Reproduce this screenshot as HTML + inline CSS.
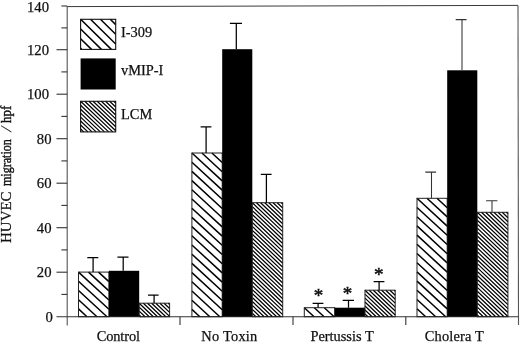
<!DOCTYPE html>
<html><head><meta charset="utf-8"><title>HUVEC migration</title>
<style>
html,body{margin:0;padding:0;background:#fff;}
svg{display:block;}
text{font-family:"Liberation Serif","DejaVu Serif",serif;font-size:14.7px;fill:#111;stroke:#111;stroke-width:0.25px;}
</style></head><body>
<svg width="520" height="343" viewBox="0 0 520 343">
<rect width="520" height="343" fill="#fff"/>

<g stroke="#555" stroke-width="1.1" fill="none">
<path d="M67.2,6.2 L67.2,325.5"/>
<path d="M67.2,6.6000000000000005 L518,5.4" stroke="#3a3a3a" stroke-width="1"/>
<path d="M518,5.6000000000000005 L518.5,325"/>
</g>
<g stroke="#333" stroke-width="1.1" fill="none">
<path d="M56.5,316.7 L518.5,316.7"/>
<path d="M180,316.7 L180,325"/>
<path d="M293,316.7 L293,325"/>
<path d="M405.8,316.7 L405.8,325"/>
<path d="M61.4,294.4 L67.2,294.4"/>
<path d="M56.5,272.2 L67.2,272.2"/>
<path d="M61.4,249.9 L67.2,249.9"/>
<path d="M56.5,227.7 L67.2,227.7"/>
<path d="M61.4,205.4 L67.2,205.4"/>
<path d="M56.5,183.2 L67.2,183.2"/>
<path d="M61.4,160.9 L67.2,160.9"/>
<path d="M56.5,138.7 L67.2,138.7"/>
<path d="M61.4,116.4 L67.2,116.4"/>
<path d="M56.5,94.2 L67.2,94.2"/>
<path d="M61.4,71.9 L67.2,71.9"/>
<path d="M56.5,49.7 L67.2,49.7"/>
<path d="M61.4,27.9 L67.2,27.9"/>
<path d="M61.4,6.0 L67.2,6.0"/>
</g>
<path d="M78.50,308.90L86.98,316.70M78.50,299.70L96.98,316.70M78.50,290.50L106.98,316.70M78.50,281.30L108.90,309.27M78.50,272.10L108.90,300.07M88.50,272.10L108.90,290.87M98.50,272.10L108.90,281.67M108.50,272.10L108.90,272.47" stroke="#000" stroke-width="1.5" fill="none"/>
<rect x="78.5" y="272.1" width="30.4" height="44.6" fill="none" stroke="#222" stroke-width="1"/>
<rect x="108.9" y="270.8" width="30.3" height="45.9" fill="#000"/>
<path d="M139.20,315.05L140.93,316.70M139.20,311.10L145.08,316.70M139.20,307.15L149.23,316.70M139.20,303.20L153.38,316.70M143.35,303.20L157.53,316.70M147.50,303.20L161.68,316.70M151.65,303.20L165.83,316.70M155.80,303.20L169.60,316.33M159.95,303.20L169.60,312.38M164.10,303.20L169.60,308.43M168.25,303.20L169.60,304.48" stroke="#000" stroke-width="1.25" fill="none"/>
<rect x="139.2" y="303.2" width="30.4" height="13.5" fill="none" stroke="#222" stroke-width="1"/>
<path d="M191.90,309.40L199.83,316.70M191.90,300.20L209.83,316.70M191.90,291.00L219.83,316.70M191.90,281.80L222.20,309.68M191.90,272.60L222.20,300.48M191.90,263.40L222.20,291.28M191.90,254.20L222.20,282.08M191.90,245.00L222.20,272.88M191.90,235.80L222.20,263.68M191.90,226.60L222.20,254.48M191.90,217.40L222.20,245.28M191.90,208.20L222.20,236.08M191.90,199.00L222.20,226.88M191.90,189.80L222.20,217.68M191.90,180.60L222.20,208.48M191.90,171.40L222.20,199.28M191.90,162.20L222.20,190.08M191.90,153.00L222.20,180.88M201.90,153.00L222.20,171.68M211.90,153.00L222.20,162.48M221.90,153.00L222.20,153.28" stroke="#000" stroke-width="1.5" fill="none"/>
<rect x="191.9" y="153.0" width="30.3" height="163.7" fill="none" stroke="#222" stroke-width="1"/>
<rect x="222.2" y="49.2" width="30.1" height="267.5" fill="#000"/>
<path d="M252.30,313.30L255.87,316.70M252.30,309.35L260.02,316.70M252.30,305.40L264.17,316.70M252.30,301.45L268.32,316.70M252.30,297.50L272.47,316.70M252.30,293.55L276.62,316.70M252.30,289.60L280.77,316.70M252.30,285.65L282.70,314.58M252.30,281.70L282.70,310.63M252.30,277.75L282.70,306.68M252.30,273.80L282.70,302.73M252.30,269.85L282.70,298.78M252.30,265.90L282.70,294.83M252.30,261.95L282.70,290.88M252.30,258.00L282.70,286.93M252.30,254.05L282.70,282.98M252.30,250.10L282.70,279.03M252.30,246.15L282.70,275.08M252.30,242.20L282.70,271.13M252.30,238.25L282.70,267.18M252.30,234.30L282.70,263.23M252.30,230.35L282.70,259.28M252.30,226.40L282.70,255.33M252.30,222.45L282.70,251.38M252.30,218.50L282.70,247.43M252.30,214.55L282.70,243.48M252.30,210.60L282.70,239.53M252.30,206.65L282.70,235.58M252.30,202.70L282.70,231.63M256.45,202.70L282.70,227.68M260.60,202.70L282.70,223.73M264.75,202.70L282.70,219.78M268.90,202.70L282.70,215.83M273.05,202.70L282.70,211.88M277.20,202.70L282.70,207.93M281.35,202.70L282.70,203.98" stroke="#000" stroke-width="1.25" fill="none"/>
<rect x="252.3" y="202.7" width="30.4" height="114.0" fill="none" stroke="#222" stroke-width="1"/>
<path d="M304.30,307.70L314.08,316.70M314.30,307.70L324.08,316.70M324.30,307.70L334.08,316.70M334.30,307.70L334.70,308.07" stroke="#000" stroke-width="1.5" fill="none"/>
<rect x="304.3" y="307.7" width="30.4" height="9.0" fill="none" stroke="#222" stroke-width="1"/>
<rect x="334.7" y="307.7" width="30.3" height="9.0" fill="#000"/>
<path d="M365.00,313.90L367.94,316.70M365.00,309.95L372.09,316.70M365.00,306.00L376.24,316.70M365.00,302.05L380.39,316.70M365.00,298.10L384.54,316.70M365.00,294.15L388.69,316.70M365.00,290.20L392.84,316.70M369.15,290.20L395.20,314.99M373.30,290.20L395.20,311.04M377.45,290.20L395.20,307.09M381.60,290.20L395.20,303.14M385.75,290.20L395.20,299.19M389.90,290.20L395.20,295.24M394.05,290.20L395.20,291.29" stroke="#000" stroke-width="1.25" fill="none"/>
<rect x="365.0" y="290.2" width="30.2" height="26.5" fill="none" stroke="#222" stroke-width="1"/>
<path d="M417.00,308.70L425.70,316.70M417.00,299.50L435.70,316.70M417.00,290.30L445.70,316.70M417.00,281.10L447.20,308.88M417.00,271.90L447.20,299.68M417.00,262.70L447.20,290.48M417.00,253.50L447.20,281.28M417.00,244.30L447.20,272.08M417.00,235.10L447.20,262.88M417.00,225.90L447.20,253.68M417.00,216.70L447.20,244.48M417.00,207.50L447.20,235.28M417.00,198.30L447.20,226.08M427.00,198.30L447.20,216.88M437.00,198.30L447.20,207.68M447.00,198.30L447.20,198.48" stroke="#000" stroke-width="1.5" fill="none"/>
<rect x="417.0" y="198.3" width="30.2" height="118.4" fill="none" stroke="#222" stroke-width="1"/>
<rect x="447.2" y="70.3" width="30.1" height="246.4" fill="#000"/>
<path d="M477.30,315.00L479.09,316.70M477.30,311.05L483.24,316.70M477.30,307.10L487.39,316.70M477.30,303.15L491.54,316.70M477.30,299.20L495.69,316.70M477.30,295.25L499.84,316.70M477.30,291.30L503.99,316.70M477.30,287.35L507.90,316.48M477.30,283.40L507.90,312.53M477.30,279.45L507.90,308.58M477.30,275.50L507.90,304.63M477.30,271.55L507.90,300.68M477.30,267.60L507.90,296.73M477.30,263.65L507.90,292.78M477.30,259.70L507.90,288.83M477.30,255.75L507.90,284.88M477.30,251.80L507.90,280.93M477.30,247.85L507.90,276.98M477.30,243.90L507.90,273.03M477.30,239.95L507.90,269.08M477.30,236.00L507.90,265.13M477.30,232.05L507.90,261.18M477.30,228.10L507.90,257.23M477.30,224.15L507.90,253.28M477.30,220.20L507.90,249.33M477.30,216.25L507.90,245.38M477.30,212.30L507.90,241.43M481.45,212.30L507.90,237.48M485.60,212.30L507.90,233.53M489.75,212.30L507.90,229.58M493.90,212.30L507.90,225.63M498.05,212.30L507.90,221.68M502.20,212.30L507.90,217.73M506.35,212.30L507.90,213.78" stroke="#000" stroke-width="1.25" fill="none"/>
<rect x="477.3" y="212.3" width="30.6" height="104.4" fill="none" stroke="#222" stroke-width="1"/>
<g stroke="#000" stroke-width="1.25" fill="none">
<path d="M93.1,272.1 L93.1,257.5 M87.3,257.5 L98.3,257.5"/>
<path d="M123.2,270.8 L123.2,257.0 M117.4,257.0 L128.5,257.0"/>
<path d="M154.1,303.2 L154.1,295.2 M148.0,295.2 L158.6,295.2"/>
<path d="M206.1,153.0 L206.1,126.9 M200.6,126.9 L211.4,126.9"/>
<path d="M236.3,49.2 L236.3,23.3 M229.9,23.3 L242.0,23.3"/>
<path d="M266.4,202.7 L266.4,174.3 M260.8,174.3 L271.6,174.3"/>
<path d="M318.1,307.7 L318.1,303.4 M312.6,303.4 L323.4,303.4"/>
<path d="M348.5,307.7 L348.5,300.4 M342.7,300.4 L354.0,300.4"/>
<path d="M379.1,290.2 L379.1,281.6 M373.6,281.6 L384.4,281.6"/>
<path d="M431.5,198.3 L431.5,172.1 M425.3,172.1 L436.1,172.1" stroke="#333" stroke-width="1.05"/>
<path d="M462.0,70.3 L462.0,19.6 M455.7,19.6 L466.5,19.6" stroke="#333" stroke-width="1.05"/>
<path d="M492.0,212.3 L492.0,200.7 M486.1,200.7 L497.4,200.7" stroke="#333" stroke-width="1.05"/>
</g>
<path d="M80.60,48.40L81.62,49.40M80.60,38.70L91.52,49.40M80.60,29.00L101.42,49.40M80.60,19.30L111.32,49.40M90.50,19.30L115.70,43.99M100.40,19.30L115.70,34.29M110.30,19.30L115.70,24.59" stroke="#000" stroke-width="1.5" fill="none"/>
<rect x="80.6" y="19.3" width="35.1" height="30.1" fill="none" stroke="#111" stroke-width="1.1"/>
<text x="121.0" y="36.9" style="font-size:14.4px">I-309</text>
<rect x="80.6" y="58.4" width="35.1" height="31.1" fill="#000"/>
<text x="121.0" y="74.7" style="font-size:14.4px">vMIP-I</text>
<path d="M80.60,128.95L83.70,131.90M80.60,125.00L87.85,131.90M80.60,121.05L92.00,131.90M80.60,117.10L96.15,131.90M80.60,113.15L100.30,131.90M80.60,109.20L104.45,131.90M80.60,105.25L108.60,131.90M80.60,101.30L112.75,131.90M84.75,101.30L115.70,130.76M88.90,101.30L115.70,126.81M93.05,101.30L115.70,122.86M97.20,101.30L115.70,118.91M101.35,101.30L115.70,114.96M105.50,101.30L115.70,111.01M109.65,101.30L115.70,107.06M113.80,101.30L115.70,103.11" stroke="#000" stroke-width="1.25" fill="none"/>
<rect x="80.6" y="101.3" width="35.1" height="30.6" fill="none" stroke="#111" stroke-width="1.1"/>
<text x="121.0" y="118.9" style="font-size:14.4px">LCM</text>
<text x="52.9" y="321.6" text-anchor="end">0</text>
<text x="51.5" y="277.1" text-anchor="end">20</text>
<text x="51.5" y="232.6" text-anchor="end">40</text>
<text x="51.5" y="188.1" text-anchor="end">60</text>
<text x="51.5" y="143.6" text-anchor="end">80</text>
<text x="49.0" y="99.1" text-anchor="end">100</text>
<text x="49.0" y="54.6" text-anchor="end">120</text>
<text x="49.0" y="12.2" text-anchor="end">140</text>
<text x="96.7" y="340.5" textLength="43.3" lengthAdjust="spacing" style="font-size:14.4px">Control</text>
<text x="201.3" y="340.5" textLength="56.0" lengthAdjust="spacing" style="font-size:14.4px">No Toxin</text>
<text x="310.4" y="340.5" textLength="63.3" lengthAdjust="spacing" style="font-size:14.4px">Pertussis T</text>
<text x="424.8" y="340.5" textLength="58.9" lengthAdjust="spacing" style="font-size:14.4px">Cholera T</text>
<text x="318.6" y="301.8" text-anchor="middle" style="font-size:19px;stroke-width:0.5px">*</text>
<text x="347.6" y="299.8" text-anchor="middle" style="font-size:19px;stroke-width:0.5px">*</text>
<text x="378.8" y="281.1" text-anchor="middle" style="font-size:19px;stroke-width:0.5px">*</text>
<text transform="translate(11.2 243.0) rotate(-90)" textLength="51.6" lengthAdjust="spacingAndGlyphs">HUVEC</text>
<text transform="translate(11.2 186.0) rotate(-90)" textLength="46.8" lengthAdjust="spacingAndGlyphs" style="stroke-width:0.4px">migration</text>
<text transform="translate(11.2 123.0) rotate(-90)" textLength="17.3" lengthAdjust="spacingAndGlyphs" style="stroke-width:0.4px">hpf</text>
<text transform="translate(11.2 132.2) rotate(-90) skewX(-16)">/</text>
</svg></body></html>
